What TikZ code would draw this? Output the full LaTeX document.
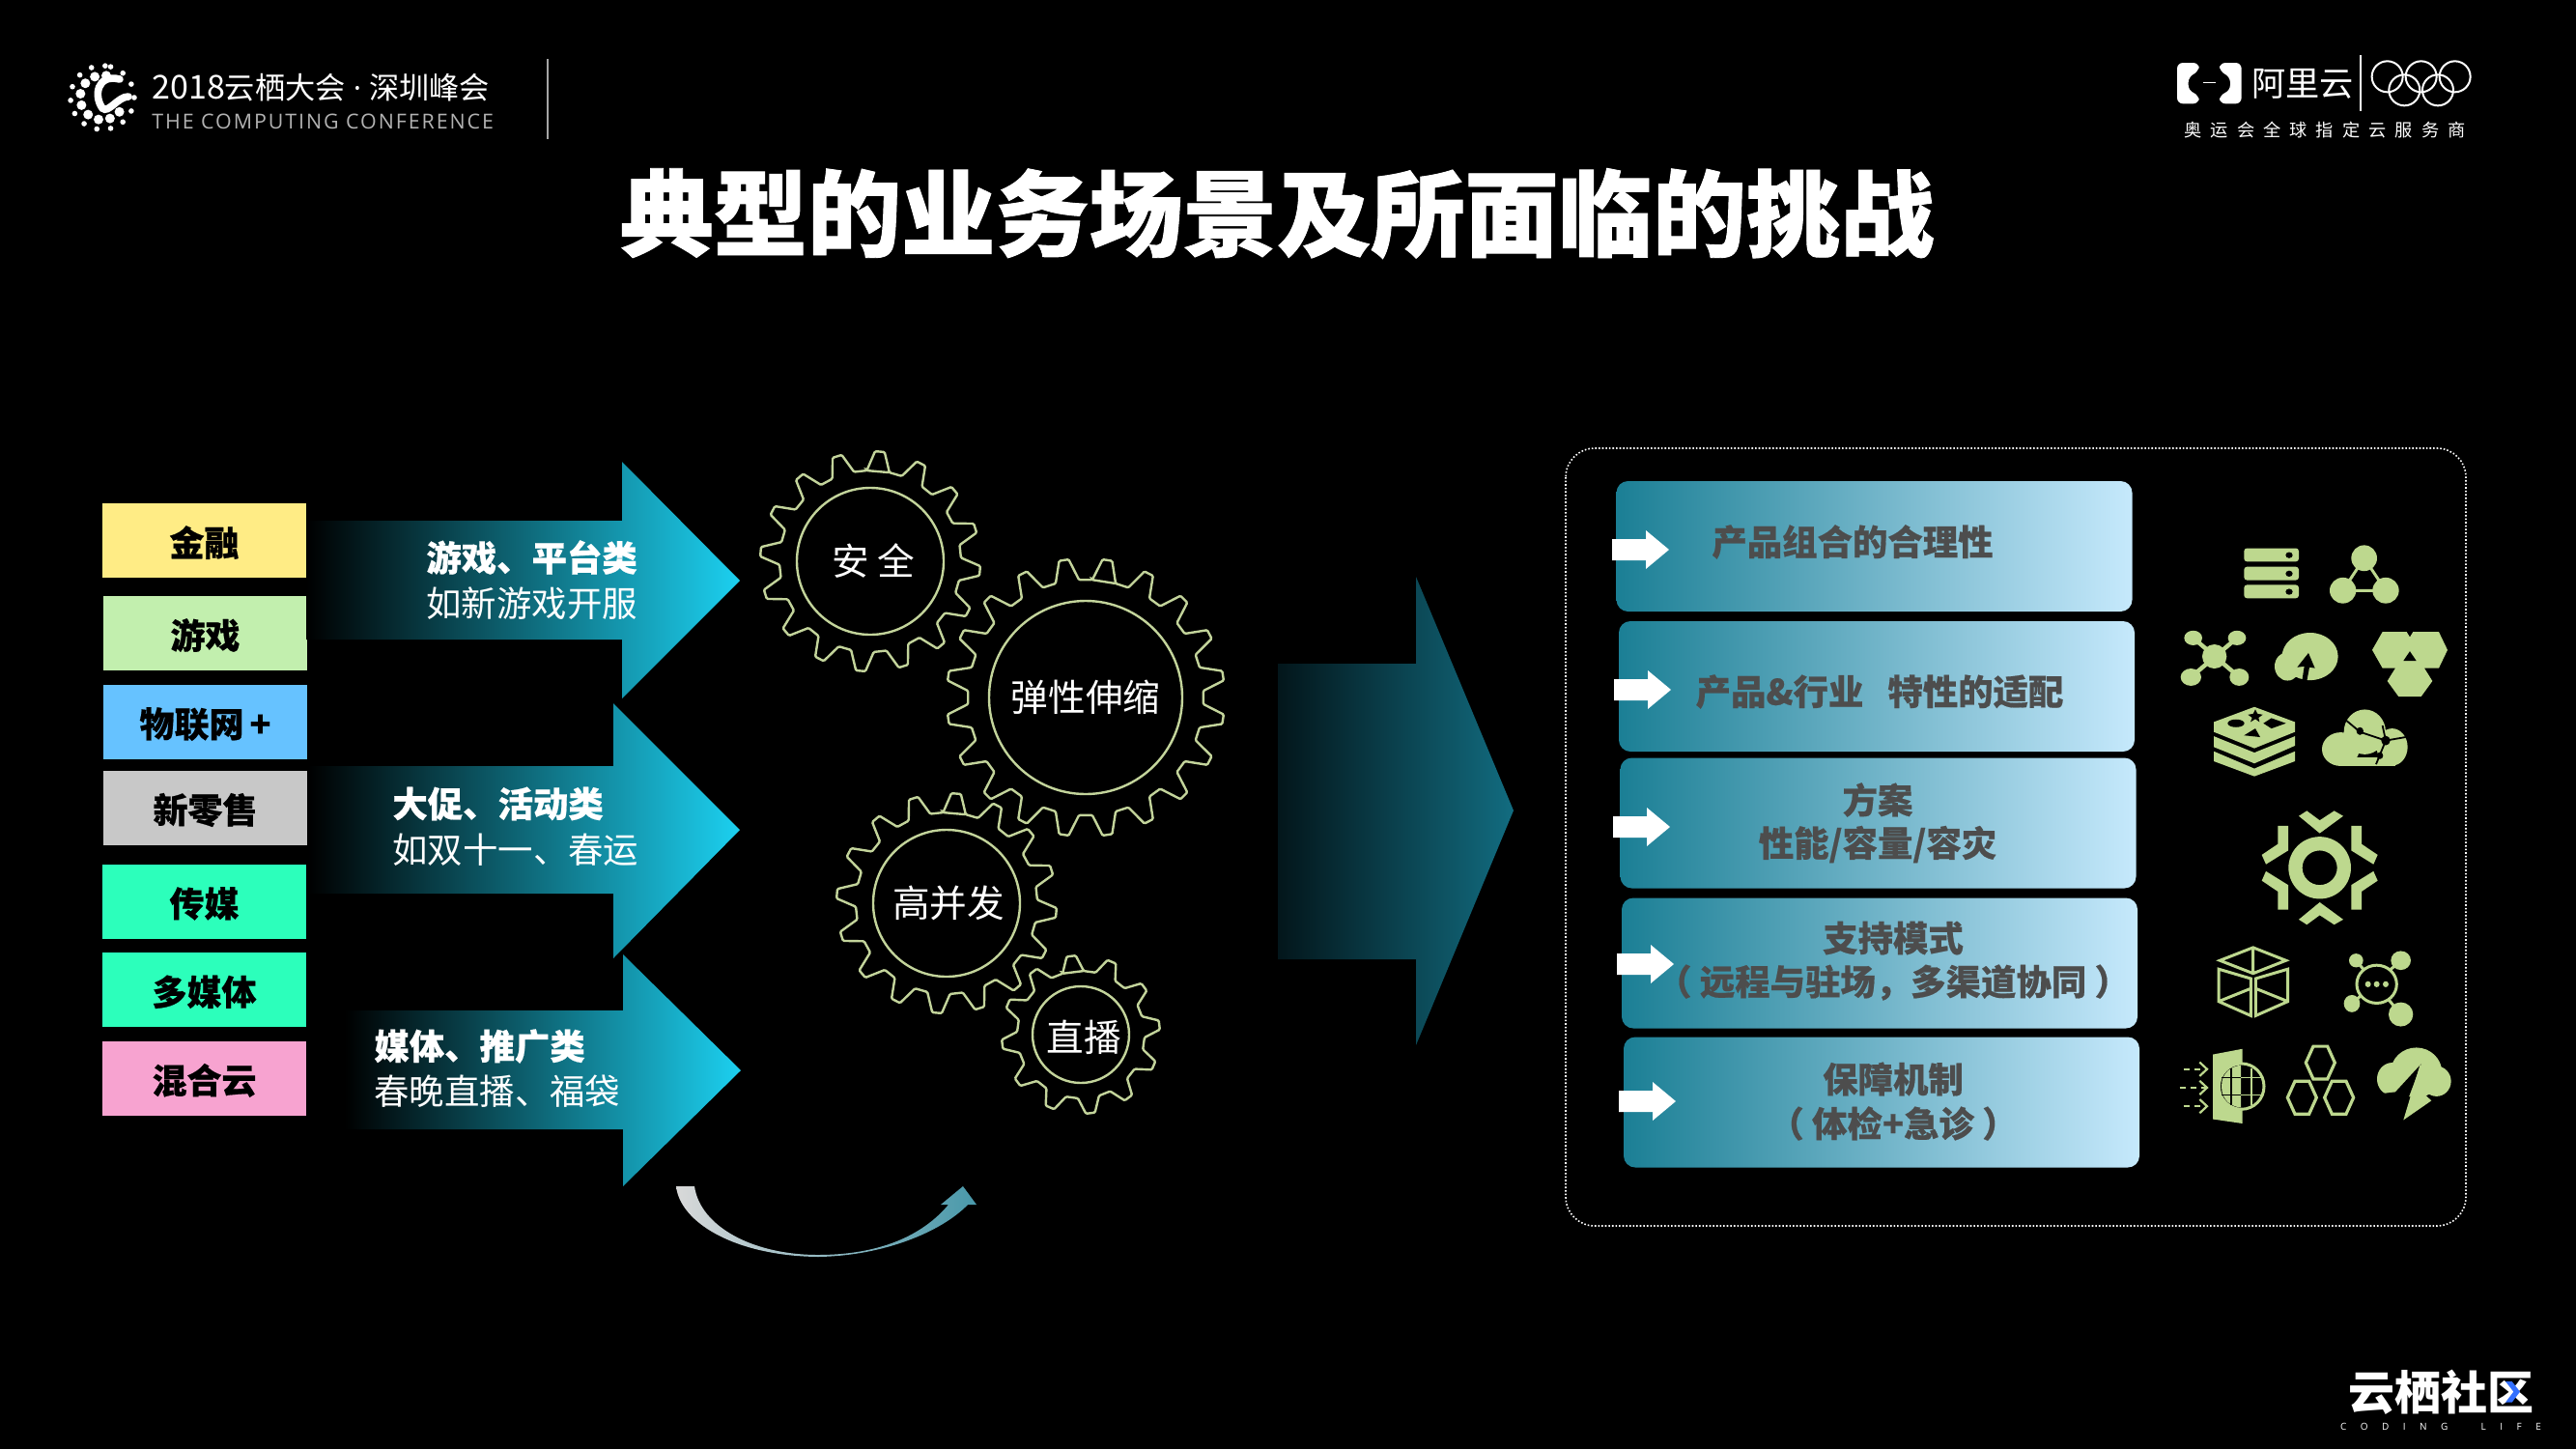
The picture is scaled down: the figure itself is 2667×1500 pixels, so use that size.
\documentclass[tikz,border=0pt]{standalone}
\usepackage{fontspec}
\setmainfont{Noto Sans CJK SC}
\newfontfamily\conffont[LetterSpace=9]{Open Sans}
\newfontfamily\plainlatin{Open Sans}
\newfontfamily\codefont[LetterSpace=145]{Open Sans}
\newfontfamily\wideCJK[LetterSpace=50]{Noto Sans CJK SC}
\newfontfamily\heavyfont[BoldFeatures={FakeBold=0.5}]{Noto Sans CJK SC}
\newfontfamily\titlefont[BoldFeatures={FakeBold=0.9}]{Noto Sans CJK SC}
\newcommand{\setfs}[1]{\fontsize{#1pt}{#1pt}\selectfont}

\definecolor{catyellow}{HTML}{FFEC85}
\definecolor{catgreen}{HTML}{C2EFAE}
\definecolor{catblue}{HTML}{66C2FF}
\definecolor{catgray}{HTML}{C8C8C8}
\definecolor{catmint}{HTML}{2CFFBB}
\definecolor{catpink}{HTML}{F7A3D0}
\definecolor{gearcol}{HTML}{C3D49B}
\definecolor{iconcol}{HTML}{BDD88E}
\definecolor{boxtext}{HTML}{4D4D4D}
\definecolor{planleft}{HTML}{1B7F95}
\definecolor{planmid}{HTML}{8FBFD2}
\definecolor{planright}{HTML}{C6E9FC}
\definecolor{arrowtip}{HTML}{1CD0F0}
\definecolor{arrowone}{HTML}{0C5A6E}
\definecolor{arrowtwo}{HTML}{158F96}
\definecolor{arrowthree}{HTML}{12808A}
\definecolor{bigleft}{HTML}{03161B}
\definecolor{bigright}{HTML}{126C80}

% cx, cy, inner r, root r, tip r, teeth, phase
\newcommand{\gearwheel}[7]{
    \pgfmathsetmacro{\gstep}{360/#6}
    \pgfmathsetmacro{\wroot}{0.32*\gstep}
    \pgfmathsetmacro{\wtip}{0.11*\gstep}
    \begin{scope}[shift={(#1,#2)}]
        \draw[gearline] (0,0) circle (#3);
        \draw[gearline, rounded corners=0.6pt] ({#7-\wroot}:#4)
            \foreach \k [evaluate=\k as \a using #7+\k*\gstep] in {0,...,#6}
            {
                -- ({\a-\wroot}:#4) -- ({\a-\wtip}:#5) -- ({\a+\wtip}:#5) -- ({\a+\wroot}:#4)
            } -- cycle;
    \end{scope}
}

\begin{document}
\begin{tikzpicture}[x=0.5pt,y=-0.5pt,
    catbox/.style={minimum width=105.5pt,minimum height=38.5pt,inner sep=0pt,text height=18pt,text depth=2pt,font=\heavyfont\setfs{18}\bfseries,text=black},
    gearline/.style={draw=gearcol,line width=1.2pt},
    gearlabel/.style={text=white,font=\setfs{19.3}},
    arrowhi/.style={anchor=west,inner sep=0pt,text=white,font=\heavyfont\setfs{18.2}\bfseries},
    arrowlo/.style={anchor=west,inner sep=0pt,text=white,font=\setfs{18.2}},
    planbox/.style={minimum width=267pt,minimum height=67.5pt,inner sep=0pt,rounded corners=6pt,
        left color=planleft,middle color=planmid,right color=planright},
    plantext/.style={inner sep=0pt,text=boxtext,font=\heavyfont\setfs{18.2}\bfseries},
    icon/.style={fill=iconcol,draw=none},
    iconline/.style={draw=iconcol,line width=1.5pt},
]

\fill[black] (0,0) rectangle (2667,1500);
\useasboundingbox (0,0) rectangle (2667,1500);

% header left
\begin{scope}[shift={(106,101)}]
    \foreach \a in {-75,-50,-25,0,25,50,75,100,125,150,175,200,225,250,275}
    {
        \fill[white] (\a:33) circle (2.8);
    }
    \foreach \a in {40,70,100,130,160,190,220,250,280}
    {
        \fill[white] (\a:23) circle (5);
    }
\end{scope}
\draw[white,line width=3.8pt,line cap=round] (124,82) .. controls (100,76) and (97,100) .. (106,112) .. controls (112,118) and (122,100) .. (133,100);
\node (conf) [anchor=west,inner sep=0pt,text=white] at (157,91) {\setfs{17}2018\setfs{15.6}云栖大会{\plainlatin\ ·\ }深圳峰会};
\node (confen) [anchor=west,inner sep=0pt,text=gray!60,font=\conffont\setfs{10.7}] at (157,126) {THE COMPUTING CONFERENCE};
\draw[gray!70,line width=0.8pt] (567,61) -- (567,144);

% header right
\begin{scope}[shift={(2150,30)},scale=0.3333]
    \fill[white,rounded corners=3pt] (380,105) -- (312,105) -- (312,232) -- (380,232) -- (380,205) -- (347,192) -- (347,148) -- (380,132) -- cycle;
    \fill[white,rounded corners=3pt] (444,105) -- (512,105) -- (512,232) -- (444,232) -- (444,205) -- (477,192) -- (477,148) -- (444,132) -- cycle;
    \draw[white,line width=0.6pt] (393,167) -- (432,167);
    \draw[white,line width=0.8pt] (882,82) -- (882,255);
    \foreach \x/\y in {965/148,1070/148,1175/148,1018/190,1122/190}
    {
        \draw[white,line width=1pt] (\x,\y) circle (48);
    }
\end{scope}
\node (aliyun) [anchor=west,inner sep=0pt,text=white,font=\setfs{17.6}] at (2331,87) {阿里云};
\node (sponsor) [anchor=west,inner sep=0pt,text=white,font=\wideCJK\setfs{9.1}] at (2261,135) {奥运会全球指定云服务商};

% title
\node (title) [inner sep=0pt,text=white,font=\titlefont\setfs{48.6}\bfseries] at (1322,221) {典型的业务场景及所面临的挑战};

% left column
\node (finance) [catbox,fill=catyellow] at (211.5,559.5) {金融};
\node (game) [catbox,fill=catgreen] at (212.5,655.5) {游戏};
\node (iot) [catbox,fill=catblue] at (212.5,747) {物联网\,+};
\node (retail) [catbox,fill=catgray] at (212.5,836) {新零售};
\node (media) [catbox,fill=catmint] at (211.5,933) {传媒};
\node (multi) [catbox,fill=catmint] at (211.5,1024.5) {多媒体};
\node (hybrid) [catbox,fill=catpink] at (211.5,1116) {混合云};

% three arrows
\shade[left color=black,middle color=arrowone,right color=arrowtip]
    (317,539) -- (644,539) -- (644,478) -- (766,601) -- (644,723) -- (644,662) -- (317,662) -- cycle;
\shade[left color=black,middle color=arrowtwo,right color=arrowtip]
    (319,793) -- (635,793) -- (635,728) -- (766,859) -- (635,992) -- (635,925) -- (319,925) -- cycle;
\shade[left color=black,middle color=arrowthree,right color=arrowtip]
    (357,1046) -- (645,1046) -- (645,988) -- (767,1108) -- (645,1228) -- (645,1169) -- (357,1169) -- cycle;

\node (typeone) [arrowhi] at (441,577) {游戏、平台类};
\node (typeonex) [arrowlo] at (441,625) {如新游戏开服};
\node (typetwo) [arrowhi] at (406,832) {大促、活动类};
\node (typetwox) [arrowlo] at (406,880) {如双十一、春运};
\node (typethree) [arrowhi] at (387,1083) {媒体、推广类};
\node (typethreex) [arrowlo] at (387,1130) {春晚直播、福袋};

% gears
\gearwheel{901}{581}{76}{94}{114}{16}{-85}
\gearwheel{1124}{722}{100}{122}{144}{20}{-81}
\gearwheel{980}{935}{76}{94}{114}{16}{-85}
\gearwheel{1119}{1071}{50}{66}{82}{12}{-97}
\node (safe) [gearlabel] at (904,581) {安 全};
\node (elastic) [gearlabel] at (1124,722) {弹性伸缩};
\node (conc) [gearlabel] at (982,935) {高并发};
\node (live) [gearlabel] at (1122,1074) {直播};

% turning arrow
\shade[left color=gray!30,right color=planleft!80!white]
    (700,1228) .. controls (704,1265) and (760,1300) .. (847,1301) .. controls (915,1300) and (975,1275) .. (1002,1247)
    -- (1011,1247) -- (997,1228) -- (974,1247) -- (982,1247)
    .. controls (950,1285) and (900,1299) .. (847,1299) .. controls (780,1299) and (725,1270) .. (719,1228) -- cycle;

% big arrow
\shade[left color=bigleft,right color=bigright]
    (1323,687) -- (1466,687) -- (1466,597) -- (1567,839) -- (1466,1082) -- (1466,993) -- (1323,993) -- cycle;

% right frame
\draw[white,densely dotted,line width=0.8pt,rounded corners=15pt] (1621,464) rectangle (2553,1269);

\node (planone) [planbox] at (1940.5,565.5) {};
\node (plantwo) [planbox] at (1943,710.5) {};
\node (planthree) [planbox] at (1944.5,852) {};
\node (planfour) [planbox] at (1946,997) {};
\node (planfive) [planbox] at (1948,1141) {};

\foreach \x/\y in {1669/569,1671/714,1670/856,1674/998,1676/1140}
{
    \fill[white] (\x,\y-11) -- (\x+35,\y-11) -- (\x+35,\y-20) -- (\x+59,\y) -- (\x+35,\y+20) -- (\x+35,\y+11) -- (\x,\y+11) -- cycle;
}

\node (combo) [plantext] at (1918,561) {产品组合的合理性};
\node (fit) [plantext] at (1946,716) {产品\&行业\ \ \ 特性的适配};
\node (planname) [plantext] at (1944,828) {方案};
\node (capacity) [plantext] at (1944,874) {性能/容量/容灾};
\node (support) [plantext] at (1960,971) {支持模式};
\node (remote) [plantext] at (1960,1017) {（ 远程与驻场，多渠道协同 ）};
\node (assure) [plantext] at (1960,1117) {保障机制};
\node (check) [plantext] at (1960,1163) {（ 体检+急诊 ）};

% icons, laid out in a stretched grid
\begin{scope}[shift={(2220,530)},xscale=0.3333,yscale=0.4464]
    % servers
    \foreach \y in {84,127,169}
    {
        \fill[icon,rounded corners=1.5pt] (310,\y) rectangle (480,\y+31);
        \fill[black] (450,\y+16) ellipse (11 and 7);
    }
    % triangle net
    \draw[iconline] (683,107) -- (617,182) -- (750,182) -- cycle;
    \fill[icon] (683,107) ellipse (40 and 30) (617,182) ellipse (41 and 30) (750,182) ellipse (41 and 30);
    % cross net
    \draw[iconline,line width=2.2pt] (152,292) -- (295,383) (288,292) -- (145,383);
    \fill[icon] (218,335) ellipse (38 and 28) (152,292) ellipse (28 and 17) (288,292) ellipse (28 and 17) (145,383) ellipse (32 and 20) (295,383) ellipse (30 and 20);
    % cloud up
    \fill[icon] (515,335) ellipse (87 and 55) (445,358) ellipse (40 and 33);
    \fill[black] (510,327) -- (475,360) -- (497,358) -- (490,392) -- (505,392) -- (513,360) -- (530,362) -- cycle;
    % hexagons
    \fill[icon] (740,278) -- (815,278) -- (825,290) -- (835,278) -- (915,278) -- (942,320) -- (915,362) -- (870,362) -- (895,392) -- (860,428) -- (790,428) -- (755,392) -- (780,362) -- (740,362) -- (708,320) -- cycle;
    \fill[black] (825,323) -- (805,345) -- (845,345) -- cycle;
    % stack
    \fill[icon] (342,452) -- (468,487) -- (468,510) -- (342,548) -- (216,510) -- (216,487) -- cycle;
    \fill[black] (285,490) ellipse (26 and 9);
    \fill[black] (345,458) -- (352,468) -- (368,470) -- (355,477) -- (358,487) -- (345,480) -- (330,487) -- (335,477) -- (322,470) -- (338,468) -- cycle;
    \fill[black] (395,478) -- (440,490) -- (395,502) -- (370,490) -- cycle;
    \fill[black] (345,502) -- (360,522) -- (310,518) -- cycle;
    \fill[icon] (216,520) -- (342,558) -- (468,520) -- (468,542) -- (342,583) -- (216,545) -- cycle;
    \fill[icon] (216,555) -- (342,595) -- (468,555) -- (468,578) -- (342,613) -- (216,578) -- cycle;
    % cloud net
    \fill[icon] (685,510) ellipse (65 and 52) (610,550) ellipse (58 and 39) (770,545) ellipse (48 and 43);
    \fill[icon] (610,570) rectangle (780,589);
    \draw[black,line width=0.9pt] (622,480) -- (670,510) -- (750,530) -- (720,585) (750,530) -- (812,522) (750,530) -- (740,495);
    \fill[black] (670,508) ellipse (11 and 9) (750,530) ellipse (14 and 11) (732,565) ellipse (10 and 8);
    % central gear
    \fill[icon,even odd rule] (545,825) ellipse (97 and 72) (545,825) ellipse (54 and 40);
    \foreach \ym/\ys in {0/1,1650/-1}
    {
        \begin{scope}[shift={(0,\ym)},yscale=\ys]
            \fill[icon] (480,705) -- (505,693) -- (545,715) -- (590,693) -- (618,705) -- (545,745) -- cycle;
            \fill[icon] (415,728) -- (447,728) -- (447,785) -- (378,817) -- (365,795) -- (415,770) -- cycle;
            \fill[icon] (675,728) -- (643,728) -- (643,785) -- (712,817) -- (725,795) -- (675,770) -- cycle;
        \end{scope}
    }
    % cube
    \draw[iconline] (338,1010) -- (440,1040) -- (338,1070) -- (235,1040) -- cycle (338,1010) -- (338,1070);
    \draw[iconline] (231,1060) -- (331,1082) -- (331,1168) -- (231,1135) -- cycle (231,1135) -- (331,1105);
    \draw[iconline] (446,1060) -- (346,1082) -- (346,1168) -- (446,1135) -- cycle (446,1135) -- (346,1105);
    % chat net
    \draw[iconline] (658,1040) -- (797,1165) (797,1040) -- (645,1140);
    \fill[icon] (797,1040) ellipse (31 and 22) (658,1040) ellipse (22 and 16) (645,1140) ellipse (25 and 20) (797,1165) ellipse (38 and 28);
    \fill[black] (722,1095) ellipse (64 and 45);
    \draw[iconline] (722,1095) ellipse (62 and 44);
    \fill[icon] (695,1095) ellipse (9 and 7) (722,1095) ellipse (9 and 7) (750,1095) ellipse (9 and 7);
    % globe door
    \fill[icon] (213,1258) -- (305,1245) -- (305,1418) -- (213,1408) -- cycle;
    \fill[black] (302,1332) ellipse (71 and 55);
    \draw[iconline] (302,1332) ellipse (70 and 53);
    \fill[icon] (240,1332) .. controls (240,1300) and (270,1285) .. (300,1283) -- (300,1381) .. controls (270,1379) and (240,1364) .. (240,1332);
    \draw[black,line width=0.8pt] (240,1312) -- (300,1312) (240,1352) -- (300,1352) (270,1290) -- (270,1375);
    \draw[iconcol,line width=0.8pt] (300,1312) -- (365,1312) (300,1352) -- (365,1352) (333,1290) -- (333,1375);
    \foreach \y/\xs in {1292/122,1335/110,1378/122}
    {
        \draw[iconcol,line width=1.2pt,dash pattern=on 3pt off 2.5pt] (\xs,\y) -- (190,\y);
        \draw[iconcol,line width=1.1pt] (172,\y-16) -- (195,\y) -- (172,\y+16);
    }
    % hex outlines
    \foreach \x/\y in {547/1277,490/1358,605/1358}
    {
        \draw[iconline,line width=1.6pt] (\x-45,\y) -- (\x-22,\y-38) -- (\x+22,\y-38) -- (\x+45,\y) -- (\x+22,\y+38) -- (\x-22,\y+38) -- cycle;
    }
    % cloud bolt
    \fill[icon] (845,1300) ellipse (80 and 58) (770,1315) ellipse (47 and 38) (908,1320) ellipse (45 and 35);
    \fill[black] (780,1345) -- (860,1280) -- (810,1380) -- (880,1400) -- (960,1400) -- (960,1355) -- (700,1400) -- (700,1352) -- cycle;
    \fill[icon] (858,1278) -- (805,1410) -- (892,1365) -- (870,1350) -- cycle;
\end{scope}

% footer
\node (coding) [inner sep=0pt,text=white,font=\setfs{24}\bfseries] at (2527,1441) {云栖社区};
\begin{scope}[shift={(2400,1390)},scale=0.3333]
    \fill[blue!70!cyan!80!white] (582,120) -- (602,120) -- (627,152) -- (602,185) -- (582,185) -- (607,152) -- cycle;
\end{scope}
\node (codinglife) [inner sep=0pt,text=white,font=\codefont\setfs{5}] at (2527,1477) {CODING\ \ LIFE};
\end{tikzpicture}
\end{document}
